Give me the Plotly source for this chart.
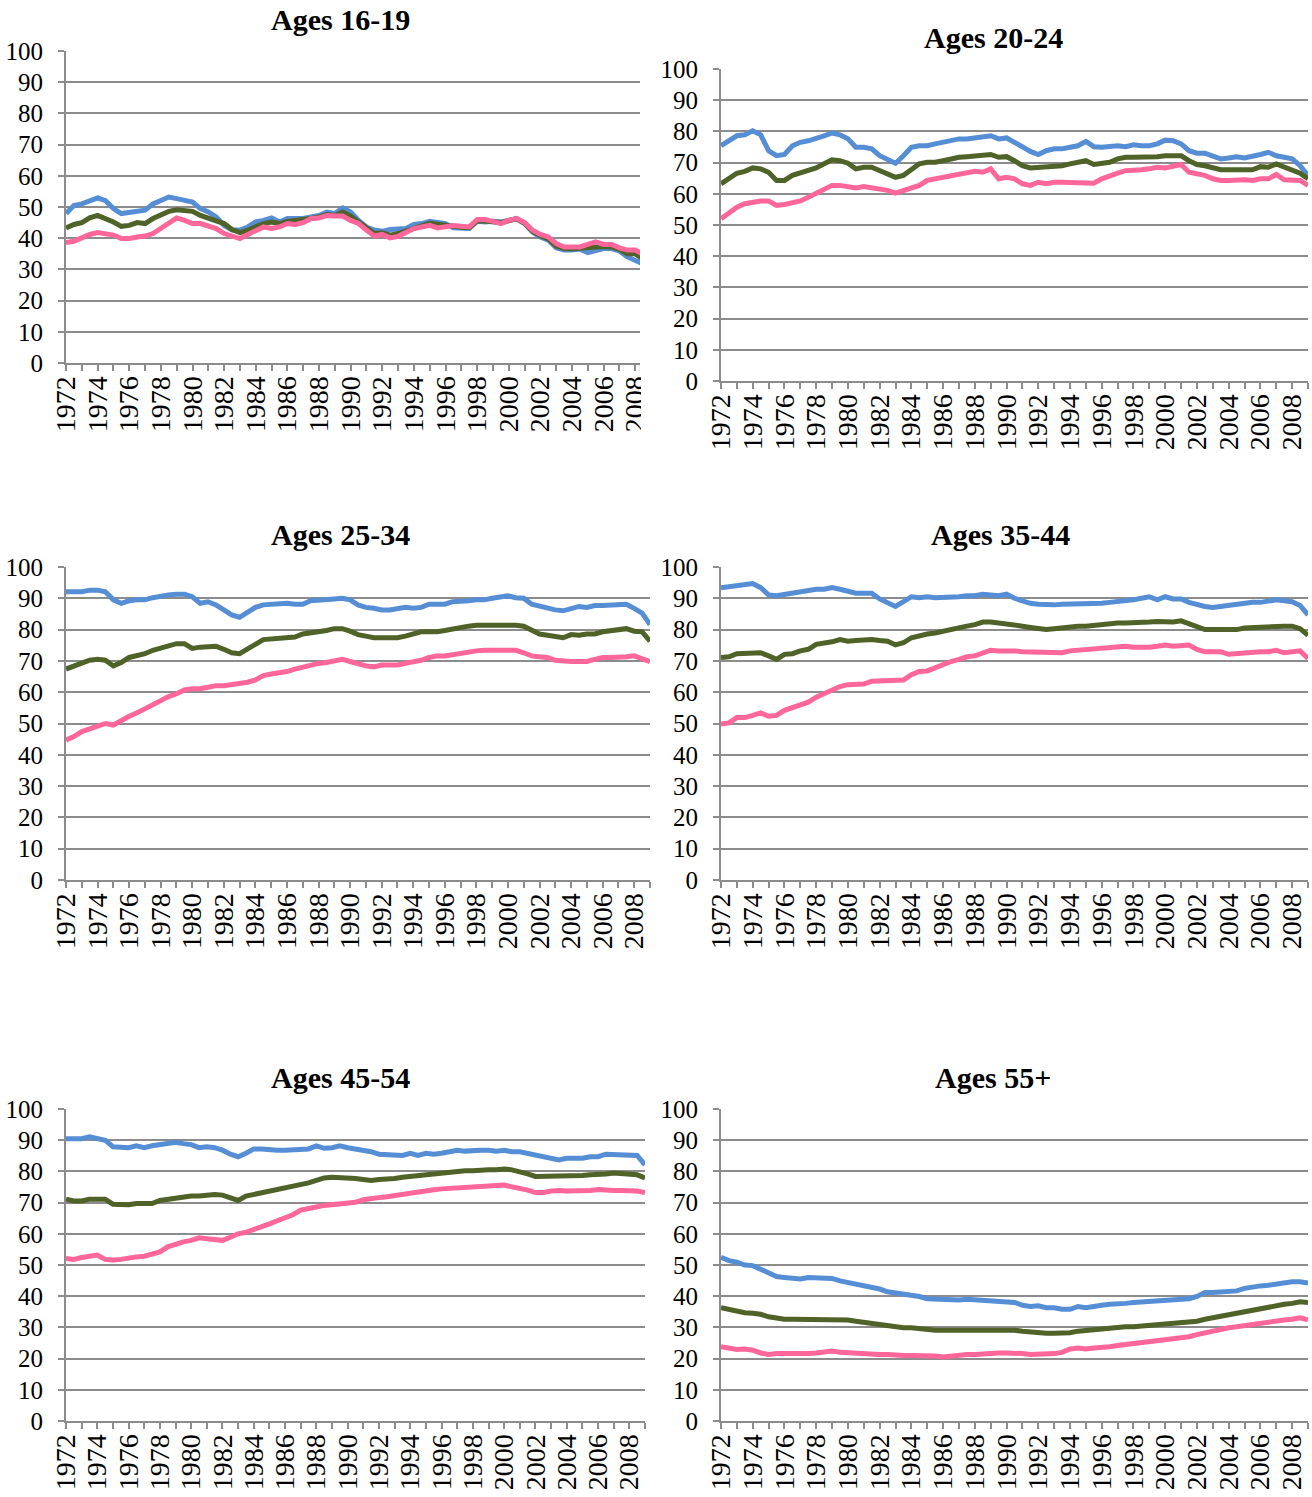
import plotly.graph_objects as go

# ---------------- data (half-yearly readings, 1972.0 .. 2009.0) ----------------
periods = [1972 + i / 2 for i in range(75)]
year_ticks = list(range(1972, 2010))
year_labels = [str(y) if y % 2 == 0 else "" for y in year_ticks]
titles = ["Ages 16-19", "Ages 20-24", "Ages 25-34", "Ages 35-44", "Ages 45-54", "Ages 55+"]

a1619_blue = [47.9, 50.5, 51, 52, 52.9, 52, 49.5, 47.9, 48.2, 48.7,
              49, 51, 52, 53.2, 52.7, 52, 51.6, 49.5, 48.4, 46.8,
              44.1, 42.6, 42.6, 43.6, 45.2, 45.7, 46.5, 45.2, 46.3, 46.3,
              46.3, 46.8, 47.3, 48.4, 47.9, 49.7, 48.4, 45.7, 43.6, 42.6,
              42.2, 42.8, 43.1, 43.1, 44.4, 44.7, 45.4, 45.2, 44.7, 43.3,
              43.3, 43.1, 45.4, 45.2, 45.4, 45.2, 45.7, 46.3, 44.7, 42,
              40.4, 39.4, 36.9, 36.2, 36.2, 36.5, 35.4, 35.9, 36.7, 36.7,
              35.9, 34, 33, 31.8]
a1619_green = [43.3, 44.4, 45, 46.5, 47.3, 46.3, 45.2, 43.8, 44.1, 45,
               44.7, 46.3, 47.3, 48.6, 49.1, 48.9, 48.6, 47.3, 46.3, 45.7,
               44.7, 42.8, 41.8, 42.6, 43.6, 44.7, 45.2, 44.7, 45.4, 45.7,
               45.7, 46.3, 46.8, 47.6, 47.3, 48.4, 47.1, 45.2, 43, 41.5,
               41.7, 41, 41.5, 42.3, 43.5, 44, 44.8, 44.5, 44.2, 43.6,
               43.5, 43.4, 45.6, 45.5, 45.4, 45, 45.6, 46.2, 44.8, 42.3,
               40.8, 39.8, 37.5, 36.7, 36.6, 36.8, 37, 37.5, 37.3, 37.2,
               36.4, 35, 35, 33.3]
a1619_pink = [38.6, 39, 40.1, 41.2, 41.8, 41.2, 41, 39.9, 39.9, 40.4,
              40.7, 41.5, 43.1, 44.7, 46.5, 45.7, 44.7, 44.7, 43.8, 43.1,
              41.5, 40.7, 39.9, 41.2, 42.2, 43.6, 43.1, 43.6, 44.7, 44.4,
              45, 46.3, 46.5, 47.3, 47.1, 47.1, 45.7, 44.7, 42.6, 40.7,
              41.2, 40.1, 40.6, 42, 43.1, 43.6, 44.1, 43.3, 43.6, 44.1,
              43.8, 43.6, 46, 46, 45.4, 44.7, 45.7, 46.3, 45, 42.6,
              41.2, 40.4, 38.3, 37.2, 37.2, 37.2, 38, 38.8, 38, 38,
              36.9, 36.2, 36.2, 34.8]

a2024_blue = [75.4, 77, 78.6, 78.9, 80.2, 78.9, 73.8, 72.2, 72.6, 75.4,
              76.5, 77, 77.6, 78.6, 79.5, 78.9, 77.6, 74.9, 74.9, 74.4,
              72.2, 70.9, 69.8, 72.2, 74.9, 75.4, 75.4, 76, 76.5, 77,
              77.6, 77.6, 77.9, 78.3, 78.6, 77.6, 77.9, 76.5, 74.9, 73.6,
              72.6, 73.8, 74.4, 74.4, 74.9, 75.4, 76.8, 75.1, 74.9, 75.1,
              75.4, 75.1, 75.7, 75.4, 75.4, 76, 77.2, 77, 76, 73.8,
              73, 73, 72.2, 71.2, 71.5, 71.9, 71.5, 71.9, 72.6, 73.3,
              72.2, 71.7, 71.2, 69, 65.9]
a2024_green = [63.2, 64.8, 66.6, 67.2, 68.3, 68, 66.9, 64.3, 64.3, 65.9,
               66.6, 67.4, 68.3, 69.6, 70.9, 70.6, 69.8, 68, 68.5, 68.5,
               67.4, 66.4, 65.3, 65.9, 68, 69.6, 70.1, 70.1, 70.6, 71.2,
               71.7, 71.9, 72.2, 72.6, 72.6, 71.7, 71.9, 70.6, 69, 68.3,
               68.5, 68.7, 68.7, 69, 69.6, 70.1, 70.6, 69.4, 69.6, 70.1,
               71.2, 71.7, 71.7, 71.7, 71.9, 71.9, 72.2, 72.2, 72.2, 70.6,
               69.4, 69, 68.3, 67.7, 67.7, 67.7, 68, 67.7, 68.7, 68.5,
               69.6, 68.5, 67.7, 66.6, 64.8]
a2024_pink = [52, 53.8, 55.7, 56.8, 57.3, 57.7, 57.7, 56.3, 56.6, 57.3,
              57.7, 58.9, 60.2, 61.6, 62.7, 62.7, 62.3, 61.9, 62.3, 61.9,
              61.6, 61.1, 60.2, 60.9, 61.6, 62.7, 64.3, 64.8, 65.3, 65.9,
              66.4, 66.9, 67.2, 66.9, 68, 64.8, 65.3, 64.8, 63.2, 62.7,
              63.7, 63.2, 63.7, 63.7, 63.7, 63.7, 63.7, 63.4, 64.8, 65.9,
              66.6, 67.4, 67.4, 67.7, 68, 68.5, 68.3, 68.7, 69.4, 66.9,
              66.4, 65.9, 64.8, 64.3, 64.3, 64.5, 64.5, 64.3, 64.8, 64.8,
              66.2, 64.5, 64.3, 64.3, 62.7]

a2534_blue = [92.1, 92.1, 92.1, 92.6, 92.6, 92.1, 89.5, 88.4, 89.2, 89.5,
              89.5, 90.2, 90.8, 91.1, 91.3, 91.3, 90.5, 88.4, 88.9, 87.9,
              86.3, 84.7, 83.9, 85.6, 87.1, 87.9, 88.1, 88.1, 88.4, 88.1,
              88.1, 89.2, 89.5, 89.5, 89.8, 90, 89.5, 87.9, 87.1, 86.8,
              86.3, 86.3, 86.6, 87.1, 86.8, 87.1, 88.1, 88.1, 88.1, 88.9,
              88.9, 89.2, 89.5, 89.5, 90, 90.2, 90.8, 90.2, 90, 88.1,
              87.4, 86.8, 86.3, 86, 86.8, 87.4, 87.1, 87.7, 87.7, 87.7,
              88.1, 88.1, 86.8, 85.3, 81.6]
a2534_green = [67.4, 68.4, 69.2, 70.2, 70.5, 70.2, 68.4, 69.5, 71.1, 71.6,
               72.3, 73.4, 74.2, 75.1, 75.5, 75.5, 74, 74.4, 74.7, 74.7,
               73.7, 72.6, 72.3, 74, 75.3, 76.8, 77.1, 77.4, 77.6, 77.6,
               78.6, 78.9, 79.3, 79.7, 80.3, 80.3, 79.5, 78.4, 77.9, 77.4,
               77.4, 77.4, 77.4, 77.9, 78.4, 79.3, 79.3, 79.3, 79.7, 80.3,
               80.5, 81.1, 81.4, 81.4, 81.4, 81.6, 81.8, 81.4, 81.1, 80,
               78.6, 78.2, 77.6, 77.4, 78.4, 78.2, 78.6, 78.6, 79.3, 79.5,
               79.7, 80.3, 79.5, 79.3, 76.3]
a2534_pink = [44.7, 45.8, 47.4, 48.4, 49.2, 50, 49.5, 51.1, 52.3, 53.4,
              54.7, 55.8, 57.4, 58.6, 59.5, 60.7, 61.1, 61.1, 61.6, 62.1,
              62.1, 62.4, 62.6, 63.2, 63.9, 65.3, 65.8, 66, 66.6, 67.4,
              68.1, 68.9, 69.2, 69.5, 70, 70.5, 69.8, 68.9, 68.4, 68.1,
              68.7, 68.7, 68.7, 69.2, 69.5, 70.2, 71.1, 71.6, 71.6, 72.1,
              72.6, 72.9, 73.2, 73.4, 73.4, 73.7, 73.7, 73.4, 72.6, 71.6,
              71.3, 71.1, 70.2, 69.8, 69.8, 69.8, 69.8, 70.5, 71.1, 71.1,
              71.1, 71.3, 71.6, 70.8, 69.8]

a3544_blue = [93.4, 93.7, 93.7, 94.4, 94.7, 93.4, 91.1, 90.8, 91.3, 91.6,
              92.1, 92.6, 92.9, 92.9, 93.4, 92.9, 92.1, 91.6, 91.6, 91.6,
              89.8, 88.4, 87.4, 88.9, 90.5, 90.2, 90.5, 90.2, 90.2, 90.2,
              90.5, 90.8, 90.8, 91.3, 91.1, 90.8, 91.3, 90, 89.2, 88.4,
              88.1, 87.9, 87.9, 88.1, 88.1, 88.4, 88.4, 88.1, 88.4, 88.7,
              88.9, 89.2, 89.5, 90, 90.5, 89.5, 90.5, 89.8, 89.8, 88.7,
              87.9, 87.4, 87.1, 87.4, 87.9, 88.1, 88.4, 88.7, 88.7, 89.2,
              89.5, 89.2, 88.9, 87.7, 84.7]
a3544_green = [71.1, 71.3, 72.3, 72.3, 72.3, 72.6, 71.6, 70.5, 72.1, 72.3,
               73.2, 73.7, 75.3, 75.5, 76.1, 76.8, 76.3, 76.5, 76.8, 76.8,
               76.5, 76.3, 75.1, 75.8, 77.4, 78.2, 78.6, 78.9, 79.5, 80.3,
               80.7, 81.1, 81.6, 82.4, 82.4, 82.1, 82.1, 81.6, 81.1, 80.7,
               80.3, 80, 80.3, 80.5, 81.1, 81.1, 81.1, 81.4, 81.6, 81.8,
               82.1, 82.1, 82.1, 82.4, 82.4, 82.6, 82.4, 82.4, 82.8, 81.8,
               80.7, 80, 80, 80, 80, 80, 80.5, 80.7, 80.7, 80.7,
               81.1, 81.1, 81.1, 80.3, 78.2]
a3544_pink = [49.8, 50.2, 51.9, 51.9, 52.6, 53.4, 52.3, 52.6, 54.2, 55,
              56.1, 56.8, 58.4, 59.5, 60.3, 61.8, 62.4, 62.6, 62.6, 63.5,
              63.5, 63.7, 63.5, 63.9, 65.6, 66.6, 66.8, 67.9, 68.9, 69.8,
              70.5, 71.3, 71.6, 72.3, 73.4, 73.2, 73.4, 73.2, 72.9, 72.9,
              72.9, 72.6, 72.6, 72.6, 73.2, 73.4, 73.7, 74, 74, 74.2,
              74.4, 74.7, 74.4, 74.2, 74.4, 74.7, 75.1, 74.7, 74.7, 75.1,
              73.7, 72.9, 72.9, 72.9, 72.1, 72.3, 72.6, 72.9, 72.9, 72.9,
              73.4, 72.6, 72.9, 73.2, 70.8]

a4554_blue = [90.5, 90.5, 90.5, 91.1, 90.7, 90, 87.9, 87.6, 87.6, 88.2,
              87.6, 88.2, 88.6, 88.6, 89.3, 88.9, 88.6, 87.6, 87.9, 87.6,
              86.8, 85.5, 84.7, 85.8, 87.2, 87.2, 86.8, 86.8, 86.8, 86.8,
              86.8, 87.2, 88.2, 87.4, 87.6, 88.2, 87.6, 87.2, 86.8, 86.3,
              85.5, 85.5, 85.5, 85.1, 85.8, 85.1, 85.8, 85.5, 85.8, 86.5,
              86.8, 86.5, 86.8, 86.8, 86.8, 86.5, 86.8, 86.3, 86.3, 85.8,
              85.1, 84.7, 84, 83.7, 84.2, 84.2, 84.2, 84.7, 84.7, 85.5,
              85.5, 85.5, 85.3, 85.1, 82.1]
a4554_green = [71.1, 70.5, 70.5, 71.1, 71.1, 71.1, 69.5, 69.3, 69.3, 69.7,
               69.7, 69.7, 70.7, 71.1, 71.6, 72.1, 72.1, 72.1, 72.4, 72.6,
               72.4, 71.6, 70.7, 72.1, 72.6, 73.2, 73.7, 74.2, 74.5, 75.3,
               75.8, 76.3, 77.1, 77.9, 78.1, 78.1, 78.1, 77.7, 77.4, 77.1,
               77.4, 77.4, 77.7, 78.1, 78.4, 78.7, 78.9, 79.2, 79.5, 79.8,
               80, 80.2, 80.2, 80.5, 80.5, 80.5, 80.8, 80.5, 80, 79.2,
               78.4, 78.4, 78.4, 78.4, 78.7, 78.7, 78.7, 78.9, 78.9, 79.2,
               79.5, 79.2, 79.2, 78.9, 77.9]
a4554_pink = [52.1, 51.8, 52.4, 52.6, 53.2, 51.8, 51.6, 51.8, 52.4, 52.6,
              52.8, 53.5, 54.2, 55.8, 56.8, 57.4, 57.9, 58.7, 58.4, 58.1,
              57.9, 58.9, 60, 60.5, 61.3, 62.3, 63.2, 64.2, 65.1, 66.1,
              67.6, 68.3, 68.6, 69.1, 69.3, 69.5, 69.7, 70.1, 70.9, 71.4,
              71.6, 71.9, 72.3, 72.9, 73.3, 73.7, 73.9, 74.1, 74.4, 74.6,
              74.8, 75, 75.3, 75.3, 75.5, 75.5, 75.6, 75.2, 74.8, 74,
              73.2, 73.2, 73.7, 73.9, 73.7, 73.7, 73.7, 73.9, 74.2, 73.9,
              73.9, 73.9, 73.9, 73.7, 73.2]

a55_blue = [52.5, 51.4, 50.9, 50, 49.8, 48.7, 47.6, 46.3, 46, 45.7,
            45.5, 46, 46, 46, 45.7, 44.9, 44.4, 44.2, 43.5, 42.8,
            42.3, 41.4, 41, 41, 40.3, 39.9, 39.2, 39, 38.8, 38.8,
            38.8, 39, 38.8, 38.5, 38.5, 38.2, 38.2, 38, 37.1, 36.7,
            36.9, 36.3, 36.3, 35.8, 35.8, 36.7, 36.3, 36.9, 37.1, 37.4,
            37.4, 37.7, 38, 38.2, 38.5, 38.8, 39, 39, 39.2, 39.2,
            39.9, 41.2, 41.2, 41.4, 41.7, 41.7, 42.5, 43.1, 43.3, 43.5,
            43.9, 44.2, 44.6, 44.6, 44.2]
a55_green = [36.3, 35.8, 34.9, 34.7, 34.5, 34.2, 33.4, 32.8, 32.6, 32.6,
             32.6, 32.6, 32.8, 32.6, 32.8, 32.6, 32.4, 32, 31.7, 31,
             31, 30.4, 30.2, 29.9, 29.9, 29.6, 29.4, 29.1, 29.1, 29.1,
             29.1, 29.4, 29.4, 29.4, 29.4, 29.1, 29.1, 29.1, 28.8, 28.5,
             28.3, 28.1, 28.1, 28.1, 28.3, 28.8, 29.1, 29.4, 29.4, 29.6,
             29.9, 30.2, 30.2, 30.4, 30.6, 31, 31.3, 31.5, 31.7, 31.7,
             32, 32.6, 33.1, 33.7, 34.2, 34.5, 34.9, 35.8, 36.3, 36.7,
             37.1, 37.4, 37.7, 38.2, 38]
a55_pink = [23.8, 23.4, 22.9, 23.1, 22.7, 21.8, 21.3, 21.6, 21.6, 21.6,
            21.3, 21.6, 21.8, 22, 22.4, 22, 21.8, 21.8, 21.3, 21.3,
            21.3, 21.3, 21, 21, 21, 21, 20.8, 20.8, 20.5, 20.8,
            21, 21.3, 21.3, 21.6, 21.8, 21.8, 21.8, 21.8, 21.6, 21.3,
            21.3, 21.3, 21.6, 22, 23.1, 23.4, 23.1, 23.4, 23.4, 23.8,
            24.2, 24.5, 24.8, 25.3, 25.6, 25.9, 26.1, 26.3, 26.7, 27,
            27.7, 28.3, 29.1, 29.6, 29.9, 30.2, 30.6, 31, 31.5, 31.7,
            32, 32.4, 32.6, 33.1, 32.4]

series_by_panel = [
    (a1619_blue, a1619_green, a1619_pink),
    (a2024_blue, a2024_green, a2024_pink),
    (a2534_blue, a2534_green, a2534_pink),
    (a3544_blue, a3544_green, a3544_pink),
    (a4554_blue, a4554_green, a4554_pink),
    (a55_blue, a55_green, a55_pink),
]
x_end = [2008.3, 2009, 2009, 2009, 2009, 2009]

# ---------------- layout geometry (pixels) ----------------
W, H = 1312, 1497
# (left, right, top, bottom) of each plot area
boxes = [(66, 640, 51, 363), (721, 1308, 69, 381),
         (66, 650, 567, 880), (721, 1308, 567, 880),
         (66, 645, 1109, 1421), (721, 1308, 1109, 1421)]
title_pos = [(340, 20), (993, 38), (340, 535), (1000, 535), (340, 1077), (993, 1077)]

COLORS = ["#558ED5", "#4F6228", "#FF6699"]
GRID = "#8C8C8C"
SERIF = "Liberation Serif, Times New Roman, serif"

fig = go.Figure()
layout = dict(
    width=W, height=H, margin=dict(l=0, r=0, t=0, b=0, pad=0, autoexpand=False),
    paper_bgcolor="white", plot_bgcolor="white", showlegend=False,
    font=dict(family=SERIF, color="black"),
)
annotations = []
for i, (box, series) in enumerate(zip(boxes, series_by_panel)):
    n = i + 1
    xa = "xaxis" if n == 1 else f"xaxis{n}"
    ya = "yaxis" if n == 1 else f"yaxis{n}"
    xr = "x" if n == 1 else f"x{n}"
    yr = "y" if n == 1 else f"y{n}"
    l, r, t, b = box
    layout[xa] = dict(
        domain=[l / W, r / W], anchor=yr, range=[1972, x_end[i]], automargin=False,
        tickmode="array", tickvals=year_ticks, ticktext=year_labels,
        tickangle=-90, ticks="outside", ticklen=6, tickwidth=2, tickcolor=GRID,
        showline=True, linecolor=GRID, linewidth=2, showgrid=False, zeroline=False,
        tickfont=dict(family=SERIF, size=28, color="black"),
        ticklabelstandoff=-6,
    )
    layout[ya] = dict(
        domain=[1 - b / H, 1 - t / H], anchor=xr, range=[0, 100], automargin=False,
        tickmode="linear", tick0=0, dtick=10,
        ticks="outside", ticklen=6, tickwidth=2, tickcolor=GRID,
        showline=True, linecolor=GRID, linewidth=2,
        showgrid=True, gridcolor=GRID, gridwidth=2, zeroline=False,
        tickfont=dict(family=SERIF, size=25, color="black"),
        ticklabelstandoff=10,
    )
    for vals, col in zip(series, COLORS):
        fig.add_trace(go.Scatter(
            x=periods[:len(vals)], y=vals, mode="lines",
            line=dict(color=col, width=5), xaxis=xr, yaxis=yr,
            hoverinfo="skip",
        ))
    cx, cy = title_pos[i]
    annotations.append(dict(
        text=f"<b>{titles[i]}</b>", x=cx / W, y=1 - cy / H, xref="paper", yref="paper",
        xanchor="center", yanchor="middle", showarrow=False,
        font=dict(family=SERIF, size=30, color="black"),
    ))

layout["annotations"] = annotations
# the first panel is cropped on the right in the original picture
layout["shapes"] = [dict(type="rect", xref="paper", yref="paper", layer="above",
                         x0=641 / W, x1=656 / W, y0=1 - 445 / H, y1=1 - 366 / H,
                         fillcolor="white", line=dict(width=0))]
fig.update_layout(**layout)
fig.write_html("out.html", config={"displayModeBar": False},
               post_script="document.body.style.margin='0px';document.body.style.overflow='hidden';")
